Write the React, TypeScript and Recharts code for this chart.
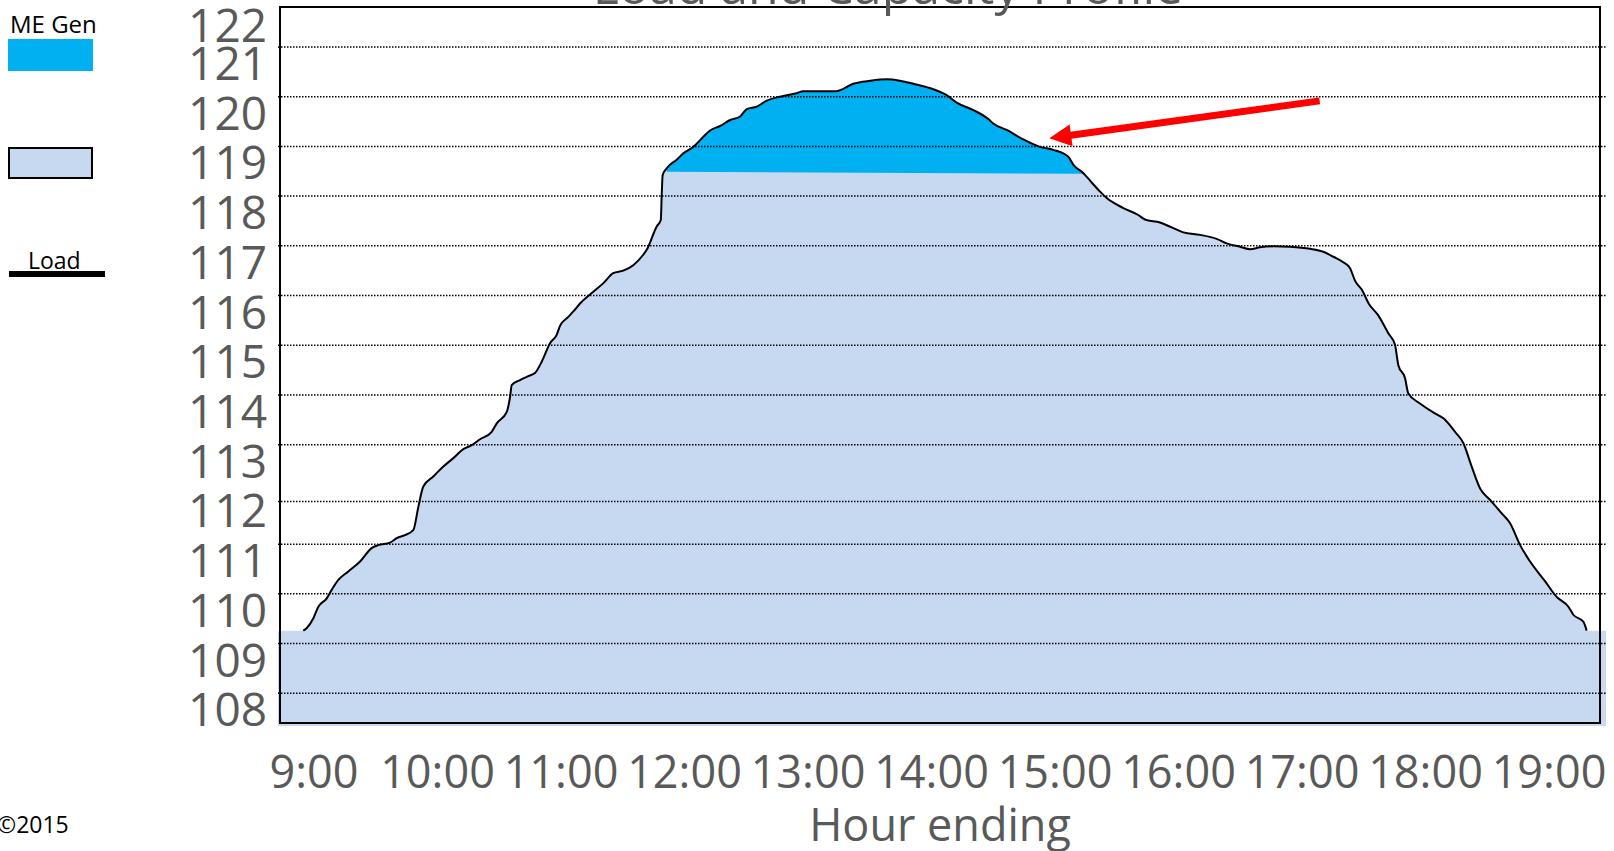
import React from "react";
import { ComposedChart, Area, Line, XAxis, YAxis, ReferenceLine, Legend } from "recharts";

// ---------- data ----------
const HOURS = [
  8.913, 8.94, 8.995, 9.035, 9.103, 9.143, 9.197, 9.278, 9.373, 9.467, 9.52, 9.616, 9.67, 9.736, 9.804,
  9.845, 9.885, 9.966, 10.047, 10.128, 10.209, 10.277, 10.344, 10.439, 10.48, 10.561, 10.588, 10.601,
  10.668, 10.735, 10.789, 10.844, 10.911, 10.965, 10.992, 11.059, 11.1, 11.154, 11.249, 11.343, 11.423,
  11.504, 11.585, 11.666, 11.694, 11.775, 11.808, 11.816, 11.823, 11.856, 11.936, 11.991, 12.072, 12.139,
  12.207, 12.288, 12.369, 12.45, 12.504, 12.585, 12.666, 12.773, 12.908, 12.962, 13.097, 13.232, 13.366,
  13.503, 13.638, 13.745, 13.853, 14.015, 14.123, 14.204, 14.339, 14.46, 14.5, 14.609, 14.743, 14.878,
  14.986, 15.108, 15.149, 15.23, 15.284, 15.365, 15.419, 15.553, 15.674, 15.728, 15.85, 15.945, 16.039,
  16.174, 16.309, 16.39, 16.499, 16.58, 16.66, 16.768, 16.903, 17.065, 17.173, 17.254, 17.334, 17.389,
  17.429, 17.486, 17.542, 17.615, 17.699, 17.753, 17.78, 17.834, 17.861, 17.955, 18.077, 18.145, 18.239,
  18.307, 18.374, 18.442, 18.523, 18.617, 18.685, 18.766, 18.847, 18.969, 19.062, 19.157, 19.197, 19.278,
  19.305,
];
const LOAD_MW = [
  109.26, 109.31, 109.51, 109.74, 109.91, 110.08, 110.28, 110.45, 110.65, 110.92, 110.98, 111.03, 111.12,
  111.18, 111.28, 111.75, 112.16, 112.36, 112.56, 112.73, 112.91, 112.99, 113.11, 113.26, 113.43, 113.66,
  113.97, 114.2, 114.3, 114.38, 114.44, 114.67, 115.04, 115.21, 115.39, 115.57, 115.68, 115.84, 116.05,
  116.25, 116.45, 116.5, 116.61, 116.82, 116.92, 117.39, 117.52, 118.06, 118.42, 118.56, 118.73, 118.86,
  118.99, 119.16, 119.32, 119.41, 119.53, 119.6, 119.75, 119.8, 119.92, 120.0, 120.07, 120.11, 120.11,
  120.11, 120.26, 120.32, 120.35, 120.32, 120.26, 120.15, 120.03, 119.88, 119.73, 119.55, 119.46, 119.33,
  119.14, 118.99, 118.93, 118.79, 118.63, 118.46, 118.31, 118.09, 117.96, 117.76, 117.62, 117.53, 117.47,
  117.37, 117.27, 117.22, 117.14, 117.05, 116.98, 116.93, 116.97, 116.99, 116.98, 116.94, 116.88, 116.78,
  116.67, 116.55, 116.3, 116.11, 115.83, 115.61, 115.24, 115.01, 114.6, 114.34, 114.03, 113.83, 113.63,
  113.53, 113.26, 113.03, 112.56, 112.12, 111.89, 111.62, 111.42, 110.98, 110.65, 110.25, 109.94, 109.74,
  109.58, 109.44, 109.26,
];
const CAPACITY_HOURS = [11.846, 15.238];
const CAPACITY_MW = [118.49, 118.45];
const SHOULDER_MW = 109.26;

const X_DOMAIN: [number, number] = [8.7085, 19.4615];
const Y_DOMAIN: [number, number] = [107.3423, 121.8033];
const X_TICKS = [9, 10, 11, 12, 13, 14, 15, 16, 17, 18, 19];
const X_TICK_LABELS = ["9:00", "10:00", "11:00", "12:00", "13:00", "14:00", "15:00", "16:00", "17:00", "18:00", "19:00"];
const Y_TICKS = [108, 109, 110, 111, 112, 113, 114, 115, 116, 117, 118, 119, 120, 121, 122];
const GRID_MW = [108, 109, 110, 111, 111.86, 113, 114, 115, 116, 117, 118, 119, 120, 121];
const ARROW_TAIL = { h: 17.143, mw: 119.915 };
const ARROW_TIP = { h: 14.954, mw: 119.162 };

// ---------- derived tables ----------
const loadRows = HOURS.map((h, i) => ({ h, load: LOAD_MW[i] }));
const capacityRows = [
  { h: X_DOMAIN[0], capacity: SHOULDER_MW },
  ...loadRows.map((r) => ({ h: r.h, capacity: r.load })),
  { h: X_DOMAIN[1], capacity: SHOULDER_MW },
];
const meGenRows = loadRows
  .filter((r) => r.h >= CAPACITY_HOURS[0] && r.h <= CAPACITY_HOURS[CAPACITY_HOURS.length - 1])
  .map((r) => ({ h: r.h, megen: r.load }));
const capLineRows = CAPACITY_HOURS.map((h, i) => ({ h, capline: CAPACITY_MW[i] }));

// ---------- styles ----------
const FONT = "'Open Sans', sans-serif";
const GREY = "#595959";
const LIGHT = "#C6D9F1";
const DARK = "#00B0F0";

const YTick = (props: any) => {
  const { x, y, payload } = props;
  const cy = Math.max(y + 16.5, 25.7);
  return (
    <text x={x} y={cy} dy="0.36em" textAnchor="end" fontSize={46} fill={GREY} fontFamily={FONT}>
      {payload.value}
    </text>
  );
};

const XTick = (props: any) => {
  const { x, y, payload } = props;
  const idx = X_TICKS.indexOf(payload.value);
  return (
    <text x={x} y={y + 46} dy="0.36em" textAnchor="middle" fontSize={45} fill={GREY} fontFamily={FONT}>
      {X_TICK_LABELS[idx]}
    </text>
  );
};

const ArrowShape = (props: any) => {
  const { x1, y1, x2, y2 } = props;
  const dx = x2 - x1;
  const dy = y2 - y1;
  const len = Math.hypot(dx, dy) || 1;
  const ux = dx / len;
  const uy = dy / len;
  const headLen = 22;
  const headHalf = 11;
  const bx = x2 - ux * headLen;
  const by = y2 - uy * headLen;
  const nx = -uy;
  const ny = ux;
  return (
    <g>
      <line x1={x1} y1={y1} x2={bx + ux * 2} y2={by + uy * 2} stroke="#FF0000" strokeWidth={7} />
      <polygon
        points={`${x2},${y2} ${bx + nx * headHalf},${by + ny * headHalf} ${bx - nx * headHalf},${by - ny * headHalf}`}
        fill="#FF0000"
      />
    </g>
  );
};

const LegendContent = (props: any) => {
  const payload: any[] = props.payload || [];
  const get = (k: string) => payload.find((p) => p.dataKey === k);
  const me = get("megen");
  const cap = get("capacity");
  const load = get("load");
  return (
    <svg width={130} height={290} style={{ display: "block", overflow: "visible" }}>
      {me && (
        <g>
          <text x={10} y={32.5} fontSize={24} fill="#000" fontFamily={FONT}>{me.value}</text>
          <rect x={8} y={39} width={85} height={32} fill={me.color} />
        </g>
      )}
      {cap && (
        <g>
          {cap.value ? <text x={10} y={140} fontSize={24} fill="#000" fontFamily={FONT}>{cap.value}</text> : null}
          <rect x={9} y={148} width={83} height={30} fill={cap.color} stroke="#000" strokeWidth={2} />
        </g>
      )}
      {load && (
        <g>
          <text x={28} y={268.5} fontSize={23} fill="#000" fontFamily={FONT}>{load.value}</text>
          <rect x={9} y={271} width={96} height={6} fill={load.color} />
        </g>
      )}
    </svg>
  );
};

export default function App() {
  return (
    <div style={{ position: "absolute", left: 0, top: 0, width: 1614, height: 851, overflow: "hidden", background: "#fff" }}>
      <ComposedChart width={1614} height={851} margin={{ top: 7, right: 8, bottom: 15, left: 178 }}>
        <XAxis
          xAxisId="hours"
          dataKey="h"
          type="number"
          domain={X_DOMAIN}
          allowDataOverflow
          ticks={X_TICKS}
          interval={0}
          height={110}
          axisLine={false}
          tickLine={false}
          tickSize={0}
          tickMargin={0}
          tick={<XTick />}
        />
        <YAxis
          type="number"
          domain={Y_DOMAIN}
          allowDataOverflow
          ticks={Y_TICKS}
          interval={0}
          width={100}
          axisLine={false}
          tickLine={false}
          tickSize={0}
          tickMargin={11}
          tick={<YTick />}
        />
        <Legend
          layout="vertical"
          align="center"
          verticalAlign="middle"
          wrapperStyle={{ left: 0, top: 0, width: 130, height: 290 }}
          content={<LegendContent />}
        />
        <Area
          xAxisId="hours"
          data={capacityRows}
          dataKey="capacity"
          name=""
          type="monotoneX"
          stroke="none"
          fill={LIGHT}
          fillOpacity={1}
          isAnimationActive={false}
        />
        <Area
          xAxisId="hours"
          data={meGenRows}
          dataKey="megen"
          name="ME Gen"
          type="monotoneX"
          stroke="none"
          fill={DARK}
          fillOpacity={1}
          isAnimationActive={false}
        />
        <Area
          xAxisId="hours"
          data={capLineRows}
          dataKey="capline"
          legendType="none"
          type="linear"
          stroke="none"
          fill={LIGHT}
          fillOpacity={1}
          isAnimationActive={false}
        />
        {GRID_MW.map((v) => (
          <ReferenceLine key={v} xAxisId="hours" y={v} stroke="#000" strokeWidth={1.5} strokeDasharray="1.5 1.5" />
        ))}
        <Line
          xAxisId="hours"
          data={loadRows}
          dataKey="load"
          name="Load"
          type="monotoneX"
          stroke="#000"
          strokeWidth={2}
          dot={false}
          activeDot={false}
          isAnimationActive={false}
        />
        <ReferenceLine
          xAxisId="hours"
          segment={[
            { x: ARROW_TAIL.h, y: ARROW_TAIL.mw },
            { x: ARROW_TIP.h, y: ARROW_TIP.mw },
          ]}
          shape={<ArrowShape />}
        />
      </ComposedChart>
      <div
        style={{
          position: "absolute",
          left: 279,
          top: 6,
          width: 1322,
          height: 718,
          border: "2px solid #000",
          boxSizing: "border-box",
          pointerEvents: "none",
        }}
      />
      <svg width={1614} height={851} style={{ position: "absolute", left: 0, top: 0, pointerEvents: "none" }}>
        <text x={888} y={4} textAnchor="middle" fontSize={50} fill={GREY} fontFamily={FONT}>
          Load and Capacity Profile
        </text>
        <text x={940} y={824.5} dy="0.36em" textAnchor="middle" fontSize={45} fill={GREY} fontFamily={FONT}>
          Hour ending
        </text>
        <text x={-3} y={833} fontSize={23} fill="#000" fontFamily={FONT}>
          ©2015
        </text>
      </svg>
    </div>
  );
}
